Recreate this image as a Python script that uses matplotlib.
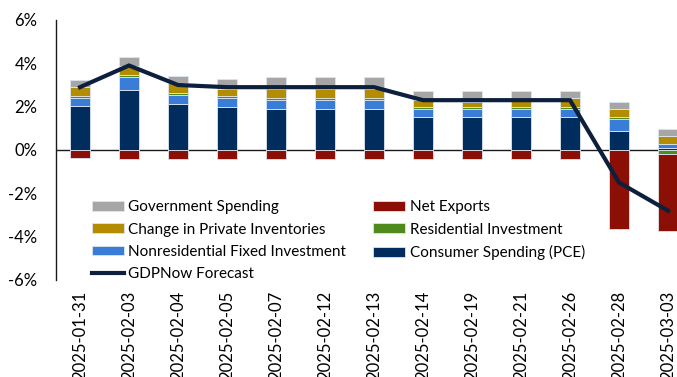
import matplotlib
matplotlib.use("Agg")
import matplotlib.pyplot as plt
import numpy as np

plt.rcParams['font.family'] = ['Lato', 'DejaVu Sans']

dates = ['2025-01-31', '2025-02-03', '2025-02-04', '2025-02-05', '2025-02-07',
         '2025-02-12', '2025-02-13', '2025-02-14', '2025-02-19', '2025-02-21',
         '2025-02-26', '2025-02-28', '2025-03-03']

# contributions to real GDP growth, percentage points
pce = [2.01, 2.77, 2.12, 2.00, 1.89, 1.89, 1.89, 1.52, 1.52, 1.54, 1.54, 0.88, 0.08]
nonres = [0.40, 0.58, 0.42, 0.40, 0.42, 0.42, 0.42, 0.38, 0.38, 0.35, 0.35, 0.54, 0.18]
resid = [0.06, 0.11, 0.09, 0.07, 0.08, 0.08, 0.08, 0.09, 0.09, 0.08, 0.08, 0.09, -0.18]
inventories = [0.42, 0.43, 0.44, 0.36, 0.42, 0.42, 0.42, 0.31, 0.24, 0.41, 0.41, 0.38, 0.38]
government = [0.36, 0.38, 0.36, 0.45, 0.54, 0.54, 0.54, 0.43, 0.50, 0.34, 0.34, 0.34, 0.31]
net_exports = [-0.37, -0.42, -0.42, -0.42, -0.42, -0.42, -0.42, -0.42, -0.42, -0.42, -0.42, -3.66, -3.54]
gdpnow = [2.9, 3.9, 3.0, 2.9, 2.9, 2.9, 2.9, 2.3, 2.3, 2.3, 2.3, -1.5, -2.8]

series = [
    ('Consumer Spending (PCE)', pce, '#002d5e'),
    ('Nonresidential Fixed Investment', nonres, '#3a7dd8'),
    ('Residential Investment', resid, '#4f8a1c'),
    ('Change in Private Inventories', inventories, '#b48c00'),
    ('Government Spending', government, '#a6a6a6'),
    ('Net Exports', net_exports, '#8b0f04'),
]

fig = plt.figure(figsize=(6.77, 3.77), dpi=100)
ax = fig.add_axes([55.5 / 677, 1 - 280 / 377, 637 / 677, 260 / 377])

x = np.arange(len(dates))
pos_base = np.zeros(len(dates))
neg_base = np.zeros(len(dates))
bars = {}
for name, vals, col in series:
    v = np.array(vals)
    base = np.where(v >= 0, pos_base, neg_base)
    bars[name] = ax.bar(x, v, 0.4, bottom=base, color=col, edgecolor='#dde6f0',
                        linewidth=0.6, label=name, zorder=2)
    pos_base += np.where(v >= 0, v, 0)
    neg_base += np.where(v < 0, v, 0)

line, = ax.plot(x, gdpnow, color='#0c1f3d', lw=3, solid_joinstyle='miter',
                label='GDPNow Forecast', zorder=3)

ax.axhline(0, color='#1a1a1a', lw=1, zorder=1)
ax.set_xlim(-0.5, len(dates) - 0.5)
ax.set_ylim(-6, 6)
ax.set_yticks(np.arange(-6, 7, 2))
ax.set_yticklabels([f'{t}%' for t in range(-6, 7, 2)], fontsize=12)
ax.set_xticks(x)
ax.set_xticklabels(dates, rotation=90, fontsize=12, va='top')
ax.tick_params(axis='both', length=0)
ax.tick_params(axis='x', pad=8)
ax.tick_params(axis='y', pad=13)
for side in ['top', 'right', 'bottom']:
    ax.spines[side].set_visible(False)
ax.spines['left'].set_color('#1a1a1a')
ax.spines['left'].set_linewidth(1)

order = ['Government Spending', 'Change in Private Inventories',
         'Nonresidential Fixed Investment', 'Net Exports',
         'Residential Investment', 'Consumer Spending (PCE)']
handles = [bars[n] for n in order[:3]] + [line] + [bars[n] for n in order[3:]]
labels = order[:3] + ['GDPNow Forecast'] + order[3:]
leg = ax.legend(handles, labels, ncol=2, loc='upper left',
                bbox_to_anchor=(0.057, 0.307), frameon=False, fontsize=11,
                handlelength=2.1, handleheight=0.6, handletextpad=0.3,
                columnspacing=1.75, labelspacing=0.55, borderaxespad=0,
                borderpad=0)

fig.savefig('out.png', dpi=100)
